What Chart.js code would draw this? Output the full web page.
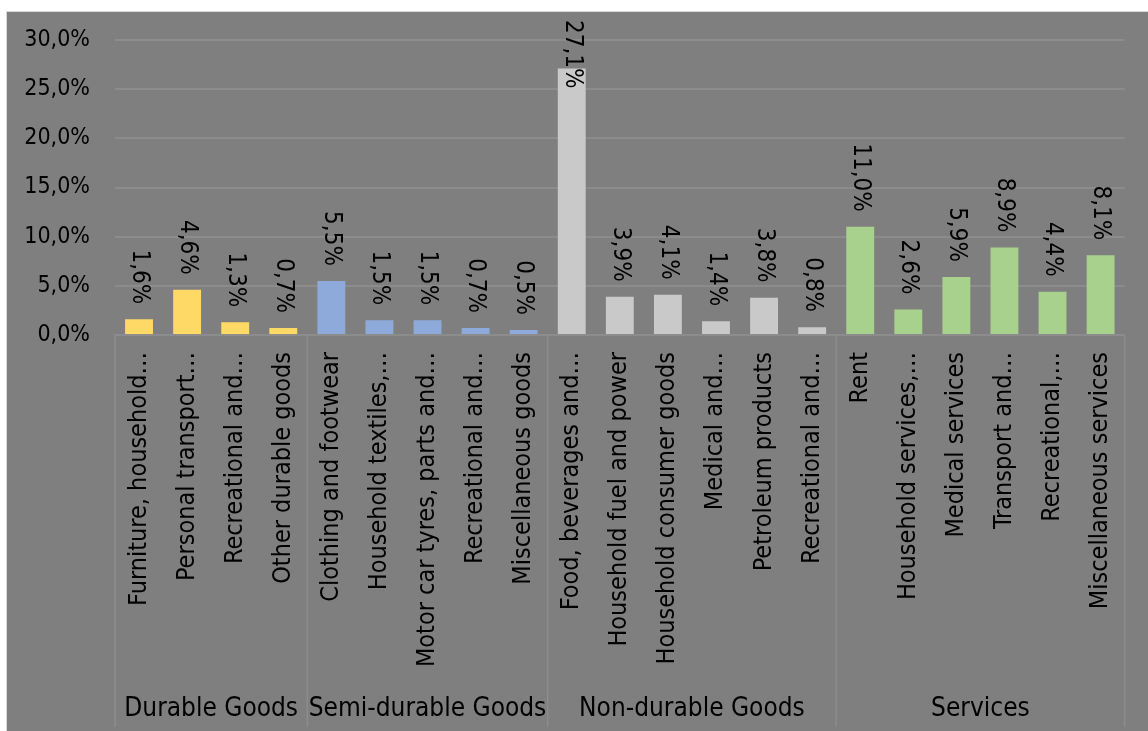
<!DOCTYPE html>
<html>
<head>
<meta charset="utf-8">
<script src="https://cdn.jsdelivr.net/npm/chart.js@4/dist/chart.umd.min.js"></script>
<style>
  body { margin: 0; background: #fff; }
  #wrap { position: absolute; left: 6px; top: 11px; width: 1141px; height: 719px; background: #7f7f7f; border-left: 1px solid #d9d9d9; border-top: 1px solid #d9d9d9; }
</style>
</head>
<body>
<div id="wrap"><canvas id="chart"></canvas></div>
<script>
const groups = ["Durable Goods", "Semi-durable Goods", "Non-durable Goods", "Services"];
const groupSizes = [4, 5, 6, 6];
const groupColors = ["#ffd966", "#8eaadb", "#c9c9c9", "#a9d18e"];
const labels = [
  "Furniture, household…", "Personal transport…", "Recreational and…", "Other durable goods",
  "Clothing and footwear", "Household textiles,…", "Motor car tyres, parts and…", "Recreational and…", "Miscellaneous goods",
  "Food, beverages and…", "Household fuel and power", "Household consumer goods", "Medical and…", "Petroleum products", "Recreational and…",
  "Rent", "Household services,…", "Medical services", "Transport and…", "Recreational,…", "Miscellaneous services"
];
const shares = [1.6, 4.6, 1.3, 0.7, 5.5, 1.5, 1.5, 0.7, 0.5, 27.1, 3.9, 4.1, 1.4, 3.8, 0.8, 11.0, 2.6, 5.9, 8.9, 4.4, 8.1];
const yTicks = [0, 5, 10, 15, 20, 25, 30];

const FONT = "'DejaVu Sans Condensed', 'DejaVu Sans', sans-serif";

function pct(v) {
  return v.toFixed(1).replace(".", ",") + "%";
}

// one colour per bar, from the group it belongs to
const barColors = [];
groupSizes.forEach((n, g) => { for (let i = 0; i < n; i++) barColors.push(groupColors[g]); });

const extras = {
  id: "extras",
  afterDraw(chart) {
    const ctx = chart.ctx;
    const x = chart.scales.x;
    const area = chart.chartArea;
    const axisY = x.top;
    const bottom = chart.height - 4;

    // group separators
    const bounds = [];
    let k = 0;
    bounds.push(area.left);
    groupSizes.forEach(n => {
      k += n;
      bounds.push(k >= labels.length ? area.right : (x.getPixelForValue(k - 1) + x.getPixelForValue(k)) / 2);
    });
    ctx.save();
    ctx.strokeStyle = "#8c8c8c";
    ctx.lineWidth = 1.5;
    bounds.forEach(b => {
      ctx.beginPath();
      ctx.moveTo(b, axisY);
      ctx.lineTo(b, bottom);
      ctx.stroke();
    });

    // group names
    ctx.fillStyle = "#000";
    ctx.font = "26px " + FONT;
    ctx.textAlign = "center";
    ctx.textBaseline = "middle";
    groups.forEach((g, i) => {
      ctx.fillText(g, (bounds[i] + bounds[i + 1]) / 2, chart.height - 22);
    });

    // value labels, rotated
    ctx.font = "24px " + FONT;
    const meta = chart.getDatasetMeta(0);
    meta.data.forEach((bar, i) => {
      const txt = pct(shares[i]);
      const w = ctx.measureText(txt).width;
      let end = bar.y - 15;
      if (end - w < 8) end = 8 + w;
      ctx.save();
      ctx.translate(bar.x, end);
      ctx.rotate(Math.PI / 2);
      ctx.textAlign = "right";
      ctx.textBaseline = "middle";
      ctx.fillText(txt, 0, 0);
      ctx.restore();
    });
    ctx.restore();
  }
};

new Chart(document.getElementById("chart"), {
  type: "bar",
  data: {
    labels: labels,
    datasets: [{ data: shares, backgroundColor: barColors, barPercentage: 0.58, categoryPercentage: 1 }]
  },
  options: {
    responsive: true,
    maintainAspectRatio: false,
    animation: false,
    layout: { padding: { top: 28, right: 16, left: 0, bottom: 0 } },
    plugins: { legend: { display: false }, tooltip: { enabled: false } },
    scales: {
      y: {
        min: 0, max: 30,
        afterBuildTicks: s => { s.ticks = yTicks.map(v => ({ value: v })); },
        afterFit: s => { s.width = 108; s.paddingTop = 0; s.paddingBottom = 0; },
        ticks: { callback: v => pct(v), color: "#000", padding: 25, font: { family: FONT, size: 23 } },
        grid: { color: "#8c8c8c", lineWidth: 2, drawTicks: false },
        border: { display: false }
      },
      x: {
        afterFit: s => { s.height = 396; },
        ticks: { minRotation: 90, maxRotation: 90, autoSkip: false, padding: 17, color: "#000", font: { family: FONT, size: 25 } },
        grid: { display: false, drawTicks: false },
        border: { display: true, color: "#8c8c8c", width: 1.5 }
      }
    }
  },
  plugins: [extras]
});
</script>
</body>
</html>
